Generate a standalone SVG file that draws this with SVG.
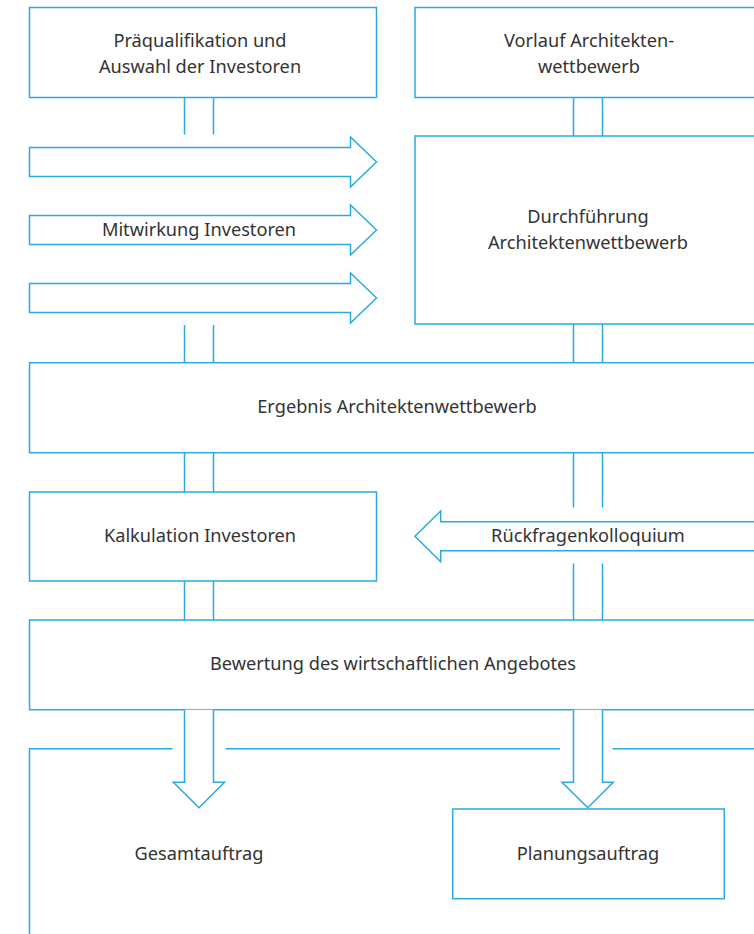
<svg xmlns="http://www.w3.org/2000/svg" width="754" height="934" viewBox="0 0 754 934">
<style>
.b{fill:#fff;stroke:#29abe2;stroke-width:1.5}
.l{fill:none;stroke:#29abe2;stroke-width:1.5}
.t{font-family:"Noto Sans","Open Sans",sans-serif;font-size:18.2px;fill:#333;text-anchor:middle}
</style>
<rect width="754" height="934" fill="#fff"/>
<g id="connectors">
<path class="l" d="M184.5,97.5V134.5M213.5,97.5V134.5"/>
<path class="l" d="M573.5,97.5V136M602.5,97.5V136"/>
<path class="l" d="M184.5,325V362.7M213.5,325V362.7"/>
<path class="l" d="M573.5,324V362.7M602.5,324V362.7"/>
<path class="l" d="M184.5,452.7V492M213.5,452.7V492"/>
<path class="l" d="M573.5,452.7V507.5M602.5,452.7V507.5"/>
<path class="l" d="M184.5,581V620M213.5,581V620"/>
<path class="l" d="M573.5,563.5V620M602.5,563.5V620"/>
<path class="l" d="M29.5,934V748.7H172.5M225.5,748.7H560M612.7,748.7H760"/>
</g>
<g id="arrow1"><path class="b" d="M29.5,147.5H350.5V137L376.5,162L350.5,187V176.5H29.5Z"/></g>
<g id="arrow-mitwirkung"><path class="b" d="M29.5,215.5H350.5V205L376.5,230L350.5,255V244.5H29.5Z"/><text class="t" x="199" y="236">Mitwirkung Investoren</text></g>
<g id="arrow3"><path class="b" d="M29.5,283.5H350.5V273L376.5,298L350.5,323V312.5H29.5Z"/></g>
<g id="n-praequalifikation"><rect class="b" x="29.5" y="7.5" width="347" height="90"/><text class="t" x="200" y="47">Präqualifikation und</text><text class="t" x="200" y="73">Auswahl der Investoren</text></g>
<g id="n-vorlauf"><rect class="b" x="415" y="7.5" width="360" height="90"/><text class="t" x="589" y="47">Vorlauf Architekten-</text><text class="t" x="589" y="73">wettbewerb</text></g>
<g id="n-durchfuehrung"><rect class="b" x="415" y="136" width="360" height="188"/><text class="t" x="588" y="223">Durchführung</text><text class="t" x="588" y="249">Architektenwettbewerb</text></g>
<g id="n-ergebnis"><rect class="b" x="29.5" y="362.7" width="745" height="90"/><text class="t" x="397" y="413">Ergebnis Architektenwettbewerb</text></g>
<g id="n-kalkulation"><rect class="b" x="29.5" y="492" width="347" height="89"/><text class="t" x="200" y="542">Kalkulation Investoren</text></g>
<g id="arrow-rueckfragen"><path class="b" d="M770,521.7H440.7V511L415,536.3L440.7,561.7V550.7H770Z"/><text class="t" x="588" y="542">Rückfragenkolloquium</text></g>
<g id="n-bewertung"><rect class="b" x="29.5" y="620" width="745" height="89.7"/><text class="t" x="393" y="670">Bewertung des wirtschaftlichen Angebotes</text></g>
<g id="arrow-down-left"><path class="b" d="M184.5,709.7V782.3H173.3L199,807.7L224.5,782.3H213.5V709.7"/></g>
<g id="arrow-down-right"><path class="b" d="M573.5,709.7V782.3H562L587.8,807.7L613.3,782.3H602.5V709.7"/></g>
<g id="n-gesamtauftrag"><text class="t" x="199" y="860">Gesamtauftrag</text></g>
<g id="n-planungsauftrag"><rect class="b" x="452.7" y="809" width="271.6" height="89.7"/><text class="t" x="588" y="860">Planungsauftrag</text></g>
</svg>
